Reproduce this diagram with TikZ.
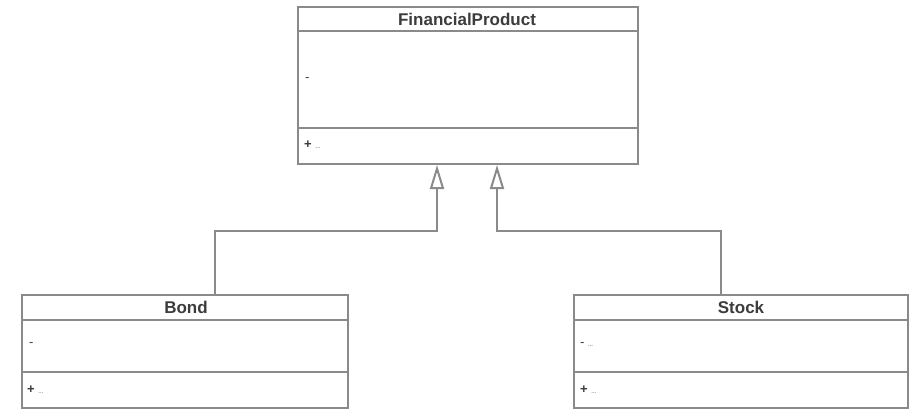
\documentclass[tikz,border=0pt]{standalone}
\usepackage{fontspec}
\setmainfont{Liberation Sans}
\usetikzlibrary{arrows.meta}
\definecolor{lineg}{HTML}{8A8A8A}
\definecolor{textg}{HTML}{3C3C3C}
\begin{document}
\begin{tikzpicture}[x=1pt,y=-1pt,
  cls/.style={draw=lineg, line width=2pt, fill=white, rectangle, inner sep=0pt, anchor=north west},
  divider/.style={draw=lineg, line width=2pt},
  cname/.style={text=textg, font=\fontsize{17}{19}\selectfont\bfseries, inner sep=0pt},
  member/.style={text=textg, font=\fontsize{13}{14}\selectfont, inner sep=0pt, anchor=west},
  gen/.style={draw=lineg, line width=2pt, -{Triangle[open, length=24pt, width=14pt, line width=2pt]}}
]
\useasboundingbox (0,0) rectangle (912,408);
% FinancialProduct
\node[cls, minimum width=340pt, minimum height=157pt] (fp) at (297,6) {};
\draw[divider] (297,31) -- (637,31);
\draw[divider] (297,128) -- (637,128);
\node[cname] (fpname) at (467,19) {FinancialProduct};
\node[member] (fpattr) at (305,80) {-};
\node[member] (fpop) at (304,145) {\textbf{+} \fontsize{6}{7}\selectfont ...};
% Bond
\node[cls, minimum width=326pt, minimum height=113pt] (bond) at (21,294) {};
\draw[divider] (21,320) -- (347,320);
\draw[divider] (21,372) -- (347,372);
\node[cname] (bondname) at (186,307) {Bond};
\node[member] (bondattr) at (29,345) {-};
\node[member] (bondop) at (27,390) {\textbf{+} \fontsize{6}{7}\selectfont ...};
% Stock
\node[cls, minimum width=334pt, minimum height=113pt] (stock) at (573,294) {};
\draw[divider] (573,320) -- (907,320);
\draw[divider] (573,372) -- (907,372);
\node[cname] (stockname) at (741,307) {Stock};
\node[member] (stockattr) at (580,345) {- \fontsize{6}{7}\selectfont ...};
\node[member] (stockop) at (580,390) {\textbf{+} \fontsize{6}{7}\selectfont ...};
% connectors
\coordinate (bj) at (437,231);
\coordinate (sj) at (497,231);
\draw[gen] (bond.north west -| 215,0) |- (bj) -- (bj |- fp.south);
\draw[gen] (stock.north west -| 721,0) |- (sj) -- (sj |- fp.south);
\end{tikzpicture}
\end{document}
